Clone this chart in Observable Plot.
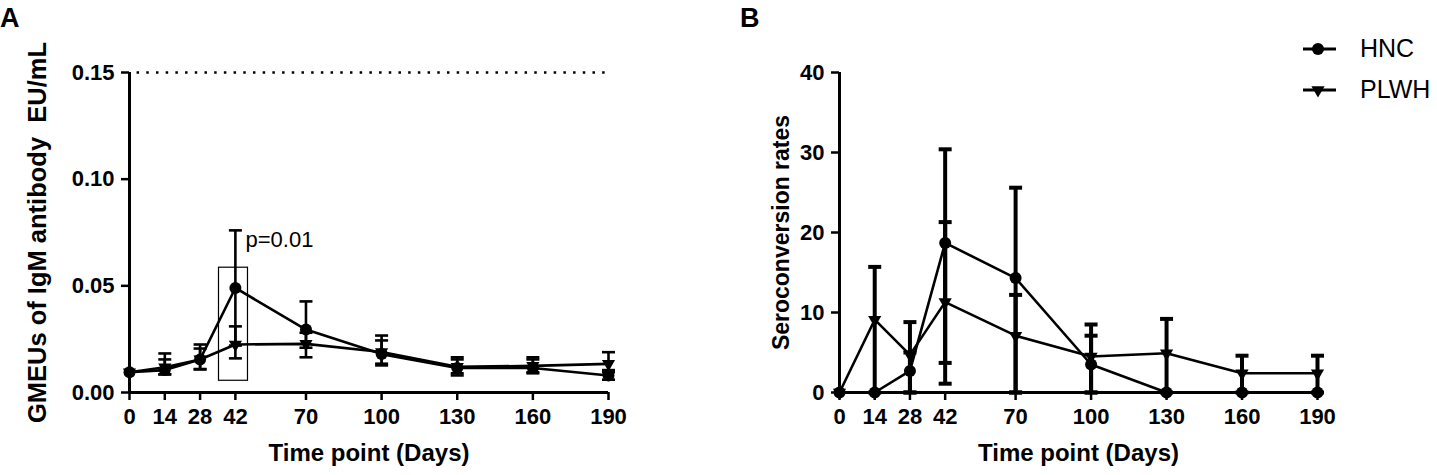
<!DOCTYPE html>
<html>
<head>
<meta charset="utf-8">
<script src="https://cdn.jsdelivr.net/npm/d3@7"></script>
<script src="https://cdn.jsdelivr.net/npm/@observablehq/plot@0.6"></script>
<style>
  body { margin: 0; background: #fff; }
  #wrap { position: relative; width: 1437px; height: 475px; font-family: "Liberation Sans", Arial, sans-serif; }
  .panel { position: absolute; top: 0; }
  .letter { position: absolute; top: 3px; font-weight: bold; font-size: 27px; }
  #legend { position: absolute; left: 1298px; top: 28px; font-size: 25px; }
  #legend .row { display: flex; align-items: center; height: 41px; }
  #legend svg { margin-right: 22px; }
</style>
</head>
<body>
<div id="wrap">
  <div class="letter" style="left:0px">A</div>
  <div class="letter" style="left:740px">B</div>
  <div id="pa" class="panel" style="left:0px"></div>
  <div id="pb" class="panel" style="left:700px"></div>
  <div id="legend"></div>
</div>
<script>
// ---------- data ----------
const days = [0, 14, 28, 42, 70, 100, 130, 160, 190];
const groups = ["HNC", "PLWH"];

// Panel A: GMEUs of IgM antibody (EU/mL)
const igmHNC      = [0.0095, 0.0105, 0.0155, 0.0490, 0.0295, 0.0180, 0.0115, 0.0115, 0.0080];
const igmHNCLow   = [0.0095, 0.0085, 0.0110, 0.0220, 0.0210, 0.0127, 0.0080, 0.0090, 0.0060];
const igmHNCHigh  = [0.0095, 0.0155, 0.0206, 0.0760, 0.0427, 0.0244, 0.0155, 0.0155, 0.0105];
const igmPLWH     = [0.0095, 0.0118, 0.0155, 0.0225, 0.0228, 0.0190, 0.0120, 0.0125, 0.0134];
const igmPLWHLow  = [0.0095, 0.0085, 0.0108, 0.0160, 0.0165, 0.0135, 0.0090, 0.0095, 0.0095];
const igmPLWHHigh = [0.0095, 0.0183, 0.0225, 0.0310, 0.0280, 0.0267, 0.0165, 0.0165, 0.0189];
const igmTicks = [0, 0.05, 0.10, 0.15];
const igmLimit = [0.15];
const boxDays = [35.5, 47];
const boxIgm = [0.0055, 0.0585];
const pNote = [{day: 46, igm: 0.0713, text: "p=0.01"}];

// Panel B: Seroconversion rates
const seroHNC      = [0, 0, 2.7, 18.7, 14.3, 3.5, 0, 0, 0];
const seroHNCLow   = [0, 0, 0, 1.1, 0, 0, 0, 0, 0];
const seroHNCHigh  = [0, 0, 5.0, 30.4, 25.6, 7.1, 0, 0, 0];
const seroPLWH     = [0, 9.1, 4.7, 11.3, 7.1, 4.5, 4.9, 2.4, 2.4];
const seroPLWHLow  = [0, 0, 0, 3.7, 0, 0, 0, 0, 0];
const seroPLWHHigh = [0, 15.7, 8.8, 21.3, 12.2, 8.5, 9.2, 4.6, 4.6];
const seroTicks = [0, 10, 20, 30, 40];

const xLabel = "Time point (Days)";
const yLabelA = "GMEUs of IgM antibody  EU/mL";
const yLabelB = "Seroconversion rates";

// ---------- helpers ----------
function buildRows(h, hl, hh, p, pl, ph) {
  return days.flatMap((d, i) => [
    {day: d, group: groups[0], value: h[i], low: hl[i], high: hh[i]},
    {day: d, group: groups[1], value: p[i], low: pl[i], high: ph[i]}
  ]);
}
const capSymbol = {draw(ctx, size) { const r = Math.sqrt(size / Math.PI); ctx.moveTo(-r, 0); ctx.lineTo(r, 0); }};
const triDown = {draw(ctx, size) {
  const r = Math.sqrt(size / Math.PI); const a = r * 1.1; const h = a * Math.sqrt(3);
  ctx.moveTo(-a, -h / 3); ctx.lineTo(a, -h / 3); ctx.lineTo(0, 2 * h / 3); ctx.closePath();
}};
const FONT = "Liberation Sans, Arial, Helvetica, sans-serif";

function panel({rows, yDomain, yTicks, yFormat, yLabel, yLabelDx, yLabelSize, marginLeft, marginRight, width, errW, lineW, extra}) {
  const caps = [
    ...rows.filter(d => d.high > d.value).map(d => ({day: d.day, v: d.high})),
    ...rows.filter(d => d.low < d.value).map(d => ({day: d.day, v: d.low}))
  ];
  return Plot.plot({
    width, height: 475,
    marginLeft, marginRight, marginTop: 72, marginBottom: 83,
    style: {fontFamily: FONT, background: "transparent", overflow: "visible"},
    x: {domain: [0, 190], axis: null},
    y: {domain: yDomain, axis: null},
    marks: [
      ...(extra || []),
      Plot.ruleX(rows.filter(d => d.high > d.low), {x: "day", y1: "low", y2: "high", stroke: "black", strokeWidth: errW}),
      Plot.dot(caps, {x: "day", y: "v", symbol: capSymbol, r: 6.5, fill: "none", stroke: "black", strokeWidth: errW}),
      Plot.line(rows, {x: "day", y: "value", z: "group", stroke: "black", strokeWidth: lineW}),
      Plot.dot(rows.filter(d => d.group === "HNC"), {x: "day", y: "value", r: 6, fill: "black", stroke: "none"}),
      Plot.dot(rows.filter(d => d.group === "PLWH"), {x: "day", y: "value", r: 6, symbol: triDown, fill: "black", stroke: "none"}),
      Plot.ruleX([0], {y1: yDomain[0], y2: yDomain[1], stroke: "black", strokeWidth: 3}),
      Plot.ruleY([yDomain[0]], {x1: 0, x2: 190, stroke: "black", strokeWidth: 3}),
      Plot.axisY({ticks: yTicks, tickFormat: yFormat, tickSize: 8, tickPadding: 7, fontSize: 22, fontWeight: "bold", strokeWidth: 2.5, label: null}),
      Plot.axisX({ticks: days, tickFormat: d3.format("d"), tickSize: 8, tickPadding: 8, fontSize: 22, fontWeight: "bold", strokeWidth: 2.5, label: null}),
      Plot.text([xLabel], {frameAnchor: "bottom", dy: 61, lineAnchor: "middle", fontSize: 24, fontWeight: "bold", fill: "black"}),
      Plot.text([yLabel], {frameAnchor: "left", rotate: -90, dx: yLabelDx, lineAnchor: "middle", textAnchor: "middle", fontSize: yLabelSize, fontWeight: "bold", fill: "black"})
    ]
  });
}

// ---------- panel A ----------
const rowsA = buildRows(igmHNC, igmHNCLow, igmHNCHigh, igmPLWH, igmPLWHLow, igmPLWHHigh);
document.getElementById("pa").append(panel({
  rows: rowsA, yDomain: [0, 0.15], yTicks: igmTicks, yFormat: d3.format(".2f"),
  yLabel: yLabelA, yLabelDx: -92, yLabelSize: 25.5, marginLeft: 129, marginRight: 92, width: 700,
  errW: 2.6, lineW: 2.6,
  extra: [
    Plot.ruleY(igmLimit, {x1: 3, x2: 190, stroke: "black", strokeWidth: 2.5, strokeDasharray: "2.5,7.2"}),
    Plot.rect([{x1: boxDays[0], x2: boxDays[1], y1: boxIgm[0], y2: boxIgm[1]}], {x1: "x1", x2: "x2", y1: "y1", y2: "y2", fill: "none", stroke: "black", strokeWidth: 1.2}),
    Plot.text(pNote, {x: "day", y: "igm", text: "text", textAnchor: "start", lineAnchor: "middle", fontSize: 22, fill: "black"})
  ]
}));

// ---------- panel B ----------
const rowsB = buildRows(seroHNC, seroHNCLow, seroHNCHigh, seroPLWH, seroPLWHLow, seroPLWHHigh);
document.getElementById("pb").append(panel({
  rows: rowsB, yDomain: [0, 40], yTicks: seroTicks, yFormat: d3.format("d"),
  yLabel: yLabelB, yLabelDx: -58, yLabelSize: 23, marginLeft: 139, marginRight: 120, width: 737,
  errW: 4, lineW: 2.6
}));

// ---------- legend ----------
const legend = document.getElementById("legend");
groups.forEach(g => {
  const row = document.createElement("div");
  row.className = "row";
  const sym = g === "HNC"
    ? '<circle cx="20" cy="10" r="6" fill="black"/>'
    : '<path d="M13.4,6.2 L26.6,6.2 L20,17.6 Z" fill="black"/>';
  row.innerHTML = `<svg width="40" height="20"><line x1="5" x2="38" y1="10" y2="10" stroke="black" stroke-width="3"/>${sym}</svg><span>${g}</span>`;
  legend.append(row);
});
</script>
</body>
</html>
